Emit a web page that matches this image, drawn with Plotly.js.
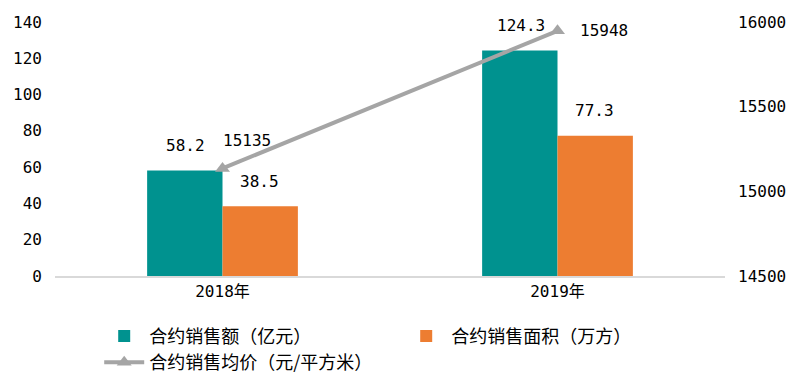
<!DOCTYPE html>
<html>
<head>
<meta charset="utf-8">
<script src="https://cdn.plot.ly/plotly-3.0.1.min.js"></script>
<style>html,body{margin:0;padding:0;background:#fff;}#chart{width:800px;height:386px;}</style>
</head>
<body>
<div id="chart"></div>
<script>
var categories = ['2018年', '2019年'];
var salesAmount = [58.2, 124.3];      // 合约销售额（亿元）
var salesArea = [38.5, 77.3];         // 合约销售面积（万方）
var avgPrice = [15135, 15948];        // 合约销售均价（元/平方米）
var leftTicks = [0, 20, 40, 60, 80, 100, 120, 140];
var rightTicks = [14500, 15000, 15500, 16000];
var seriesNames = ['合约销售额（亿元）', '合约销售面积（万方）', '合约销售均价（元/平方米）'];

var numFont = 'DejaVu Sans Mono, Noto Sans CJK SC, monospace';
var cjkFont = 'Noto Sans CJK SC, sans-serif';
var teal = '#00928F', orange = '#ED7D31', grey = '#A5A5A5';

var traces = [
  {type: 'bar', x: categories, y: salesAmount, name: seriesNames[0], marker: {color: teal}, yaxis: 'y', hoverinfo: 'none'},
  {type: 'bar', x: categories, y: salesArea, name: seriesNames[1], marker: {color: orange}, yaxis: 'y', hoverinfo: 'none'},
  {type: 'scatter', mode: 'lines+markers', x: categories, y: avgPrice, name: seriesNames[2], yaxis: 'y2',
   line: {color: grey, width: 4}, marker: {symbol: 'triangle-up', size: 13, color: grey}, hoverinfo: 'none'}
];

// label offsets (styles) for each series
var barShift = [-37, 37];
var priceLabelShift = [[24, 28], [46, 0]];
var annotations = [];
[salesAmount, salesArea].forEach(function (vals, s) {
  vals.forEach(function (v, i) {
    annotations.push({x: categories[i], y: v, xref: 'x', yref: 'y', text: v.toFixed(1), showarrow: false,
      xshift: barShift[s], yshift: 25, font: {family: numFont, size: 16, color: '#000'}});
  });
});
avgPrice.forEach(function (v, i) {
  annotations.push({x: categories[i], y: v, xref: 'x', yref: 'y2', text: String(v), showarrow: false,
    xshift: priceLabelShift[i][0], yshift: priceLabelShift[i][1], font: {family: numFont, size: 16, color: '#000'}});
});

var layout = {
  width: 800, height: 386,
  margin: {l: 55, r: 75, t: 22, b: 110},
  paper_bgcolor: '#fff', plot_bgcolor: '#fff',
  barmode: 'group', bargap: 0.55, bargroupgap: 0,
  showlegend: true,
  legend: {orientation: 'h', xref: 'container', yref: 'container', x: 0.124, y: 0.177, xanchor: 'left', yanchor: 'top',
    entrywidth: 247, font: {family: cjkFont, size: 18, color: '#000'}, traceorder: 'normal', itemwidth: 40},
  xaxis: {type: 'category', showgrid: false, zeroline: false, showline: true, linecolor: '#D9D9D9', linewidth: 2,
    ticks: '', tickfont: {family: numFont, size: 16, color: '#000'}, fixedrange: true},
  yaxis: {range: [0, 140], tickvals: leftTicks, showgrid: false, zeroline: false, showline: false, ticks: '',
    tickfont: {family: numFont, size: 16, color: '#000'}, ticklabelstandoff: 12},
  yaxis2: {range: [14500, 16000], tickvals: rightTicks, ticktext: rightTicks.map(String), overlaying: 'y', side: 'right',
    showgrid: false, zeroline: false, showline: false, ticks: '', tickfont: {family: numFont, size: 16, color: '#000'},
    ticklabelstandoff: 12},
  annotations: annotations
};

Plotly.newPlot('chart', traces, layout, {displayModeBar: false, staticPlot: true});
</script>
</body>
</html>
